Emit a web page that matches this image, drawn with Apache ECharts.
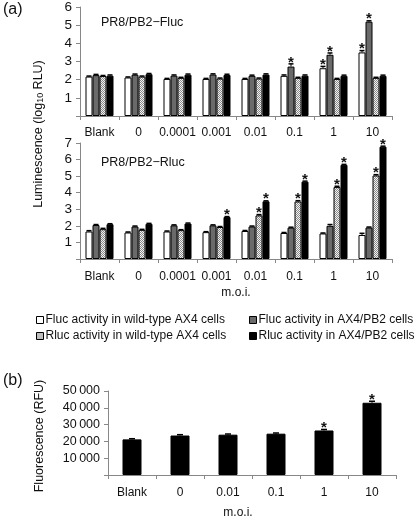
<!DOCTYPE html>
<html><head><meta charset="utf-8">
<script src="https://cdn.jsdelivr.net/npm/echarts@6/dist/echarts.min.js"></script>
<style>html,body{margin:0;padding:0;background:#fff}#c{width:416px;height:519px}</style>
</head><body><div id="c"></div>
<script>
// ---------- DATA ----------
const categoriesA = ['Blank', '0', '0.0001', '0.001', '0.01', '0.1', '1', '10'];
const categoriesB = ['Blank', '0', '0.01', '0.1', '1', '10'];
const seriesNames = [
  'Fluc activity in wild-type AX4 cells',
  'Fluc activity in AX4/PB2 cells',
  'Rluc activity in wild-type AX4 cells',
  'Rluc activity in AX4/PB2 cells'
];
// Panel (a) top: PR8/PB2-Fluc (log10 RLU)
const flucPanelFlucWT  = [2.17, 2.12, 2.04, 2.04, 2.04, 2.21, 2.63, 3.50];
const flucPanelFlucPB2 = [2.25, 2.27, 2.22, 2.28, 2.21, 2.72, 3.37, 5.19];
const flucPanelRlucWT  = [2.20, 2.17, 2.10, 2.06, 2.06, 2.10, 2.04, 2.10];
const flucPanelRlucPB2 = [2.22, 2.30, 2.27, 2.26, 2.28, 2.22, 2.21, 2.21];
const flucPanelErrFlucWT  = [0.03, 0.03, 0.03, 0.03, 0.03, 0.05, 0.10, 0.10];
const flucPanelErrFlucPB2 = [0.04, 0.04, 0.04, 0.04, 0.04, 0.15, 0.10, 0.05];
const flucPanelErrRlucWT  = [0.03, 0.03, 0.03, 0.03, 0.03, 0.03, 0.03, 0.03];
const flucPanelErrRlucPB2 = [0.04, 0.04, 0.04, 0.04, 0.04, 0.04, 0.04, 0.04];
const flucPanelStarFlucWT  = [0, 0, 0, 0, 0, 0, 1, 1];
const flucPanelStarFlucPB2 = [0, 0, 0, 0, 0, 1, 1, 1];
const flucPanelStarRlucWT  = [0, 0, 0, 0, 0, 0, 0, 0];
const flucPanelStarRlucPB2 = [0, 0, 0, 0, 0, 0, 0, 0];
// Panel (a) bottom: PR8/PB2-Rluc (log10 RLU)
const rlucPanelFlucWT  = [1.66, 1.60, 1.66, 1.62, 1.69, 1.57, 1.54, 1.45];
const rlucPanelFlucPB2 = [2.05, 1.96, 2.03, 2.03, 1.96, 1.89, 2.00, 1.90];
const rlucPanelRlucWT  = [1.80, 1.76, 1.74, 1.93, 2.63, 3.47, 4.34, 5.04];
const rlucPanelRlucPB2 = [2.10, 2.12, 2.14, 2.53, 3.48, 4.67, 5.68, 6.78];
const rlucPanelErrFlucWT  = [0.05, 0.03, 0.03, 0.03, 0.03, 0.03, 0.03, 0.10];
const rlucPanelErrFlucPB2 = [0.03, 0.03, 0.03, 0.03, 0.03, 0.03, 0.08, 0.03];
const rlucPanelErrRlucWT  = [0.05, 0.03, 0.03, 0.03, 0.05, 0.05, 0.05, 0.05];
const rlucPanelErrRlucPB2 = [0.03, 0.03, 0.03, 0.03, 0.03, 0.03, 0.03, 0.03];
const rlucPanelStarFlucWT  = [0, 0, 0, 0, 0, 0, 0, 0];
const rlucPanelStarFlucPB2 = [0, 0, 0, 0, 0, 0, 0, 0];
const rlucPanelStarRlucWT  = [0, 0, 0, 0, 1, 1, 1, 1];
const rlucPanelStarRlucPB2 = [0, 0, 0, 1, 1, 1, 1, 1];
// Panel (b): fluorescence (RFU)
const fluorescenceB = [21200, 23500, 24000, 24600, 26500, 43000];
const fluorescenceErrB = [400, 500, 400, 400, 600, 900];
const fluorescenceStarB = [0, 0, 0, 0, 1, 1];
const yTicksA1 = [0, 6, 1];   // min, max, interval
const yTicksA2 = [0, 7, 1];
const yTicksB = [0, 50000, 10000];

// ---------- STYLE ----------
const FONT = 'Liberation Sans, Arial, sans-serif';
const AXIS_COLOR = '#888';
const pc = document.createElement('canvas');
pc.width = 2; pc.height = 2;
const pctx = pc.getContext('2d');
pctx.fillStyle = '#f2f2f2'; pctx.fillRect(0, 0, 2, 2);
pctx.fillStyle = '#8a8a8a'; pctx.fillRect(0, 0, 1, 1); pctx.fillRect(1, 1, 1, 1);
const dotted = { image: pc, repeat: 'repeat' };
const fills = ['#ffffff', '#6a6a6a', dotted, '#000000'];
const BAR_W = 7;

const chart = echarts.init(document.getElementById('c'), null, { renderer: 'canvas' });

function yAxisCfg(gi, t, fmt, fs) {
  return {
    type: 'value', gridIndex: gi, min: t[0], max: t[1], interval: t[2],
    axisLine: { show: true, lineStyle: { color: AXIS_COLOR, width: 1 } },
    axisTick: { show: true, length: 4, lineStyle: { color: AXIS_COLOR } },
    splitLine: { show: false },
    axisLabel: { color: '#111', fontSize: fs || 13, fontFamily: FONT, margin: 8,
      formatter: fmt || (v => v === 0 ? '' : String(v)) }
  };
}
function xAxisCfg(gi, cats, margin) {
  return {
    type: 'category', gridIndex: gi, data: cats,
    axisLine: { show: true, lineStyle: { color: AXIS_COLOR, width: 1 } },
    axisTick: { show: true, length: 4, lineStyle: { color: AXIS_COLOR } },
    axisLabel: { color: '#111', fontSize: 12, fontFamily: FONT, margin: margin, interval: 0 }
  };
}

function errStarSeries(gi, values, errs, stars, offset, halfCap) {
  const data = values.map((v, i) => [i, v, errs[i], stars[i]]);
  return {
    type: 'custom', xAxisIndex: gi, yAxisIndex: gi, z: 5, silent: true,
    data: data,
    renderItem: function (params, api) {
      const idx = api.value(0), v = api.value(1), e = api.value(2), s = api.value(3);
      const base = api.coord([idx, v]);
      const top = api.coord([idx, v + e]);
      const x = base[0] + offset;
      const children = [];
      if (e > 0) {
        children.push({ type: 'line', shape: { x1: x, y1: base[1], x2: x, y2: top[1] }, style: { stroke: '#000', lineWidth: 1 } });
        children.push({ type: 'line', shape: { x1: x - halfCap, y1: top[1], x2: x + halfCap, y2: top[1] }, style: { stroke: '#000', lineWidth: 1.5 } });
      }
      if (s) {
        children.push({ type: 'text', style: { text: '*', x: x, y: top[1] + 6, align: 'center', verticalAlign: 'bottom', font: 'bold 15px ' + FONT, fill: '#111' } });
      }
      return { type: 'group', children: children };
    }
  };
}

const panelA1 = [flucPanelFlucWT, flucPanelFlucPB2, flucPanelRlucWT, flucPanelRlucPB2];
const panelA1Err = [flucPanelErrFlucWT, flucPanelErrFlucPB2, flucPanelErrRlucWT, flucPanelErrRlucPB2];
const panelA1Star = [flucPanelStarFlucWT, flucPanelStarFlucPB2, flucPanelStarRlucWT, flucPanelStarRlucPB2];
const panelA2 = [rlucPanelFlucWT, rlucPanelFlucPB2, rlucPanelRlucWT, rlucPanelRlucPB2];
const panelA2Err = [rlucPanelErrFlucWT, rlucPanelErrFlucPB2, rlucPanelErrRlucWT, rlucPanelErrRlucPB2];
const panelA2Star = [rlucPanelStarFlucWT, rlucPanelStarFlucPB2, rlucPanelStarRlucWT, rlucPanelStarRlucPB2];

const series = [];
[[0, panelA1, panelA1Err, panelA1Star], [1, panelA2, panelA2Err, panelA2Star]].forEach(([gi, vals, errs, stars]) => {
  vals.forEach((arr, k) => {
    series.push({
      name: seriesNames[k], type: 'bar', xAxisIndex: gi, yAxisIndex: gi,
      data: arr, barWidth: BAR_W, barGap: '0%',
      itemStyle: { color: fills[k], borderColor: '#000', borderWidth: 1 },
      emphasis: { disabled: true }, animation: false
    });
  });
  vals.forEach((arr, k) => {
    series.push(errStarSeries(gi, arr, errs[k], stars[k], (k - 1.5) * BAR_W, 2.5));
  });
});
series.push({
  name: 'Fluorescence', type: 'bar', xAxisIndex: 2, yAxisIndex: 2,
  data: fluorescenceB, barWidth: 19,
  itemStyle: { color: '#000', borderColor: '#000', borderWidth: 1 },
  emphasis: { disabled: true }, animation: false
});
series.push(errStarSeries(2, fluorescenceB, fluorescenceErrB, fluorescenceStarB, 0, 3));

function legendAt(name, left, top) {
  return {
    data: [name], left: left, top: top, orient: 'horizontal',
    icon: 'rect', itemWidth: 7, itemHeight: 7, itemGap: 0, padding: 0,
    selectedMode: false,
    textStyle: { color: '#111', fontSize: 12, fontFamily: FONT, padding: [0, 0, 0, -3] },
    itemStyle: { borderColor: '#000', borderWidth: 1 }
  };
}

const option = {
  animation: false,
  backgroundColor: '#fff',
  grid: [
    { left: 80, top: 7, width: 312, height: 109 },
    { left: 80, top: 143, width: 312, height: 116 },
    { left: 108, top: 391, width: 288, height: 84 }
  ],
  xAxis: [xAxisCfg(0, categoriesA, 11), xAxisCfg(1, categoriesA, 12), xAxisCfg(2, categoriesB, 12)],
  yAxis: [yAxisCfg(0, yTicksA1, null, 13.5), yAxisCfg(1, yTicksA2, null, 13.5),
    yAxisCfg(2, yTicksB, v => v === 0 ? '' : (v / 1000) + '\u2009000', 12.5)],
  legend: [
    legendAt(seriesNames[0], 36, 314),
    legendAt(seriesNames[1], 249, 314),
    legendAt(seriesNames[2], 36, 330),
    legendAt(seriesNames[3], 249, 330)
  ],
  series: series,
  graphic: [
    { type: 'text', left: 3, top: 2, style: { text: '(a)', font: '16px ' + FONT, fill: '#111' } },
    { type: 'text', left: 3, top: 373, style: { text: '(b)', font: '16px ' + FONT, fill: '#111' } },
    { type: 'text', x: 101, y: 23, style: { text: 'PR8/PB2\u2212Fluc', font: '12.5px ' + FONT, fill: '#111', verticalAlign: 'middle' } },
    { type: 'text', x: 101, y: 163, style: { text: 'PR8/PB2\u2212Rluc', font: '12.5px ' + FONT, fill: '#111', verticalAlign: 'middle' } },
    { type: 'text', x: 236, y: 293, style: { text: 'm.o.i.', font: '12px ' + FONT, fill: '#111', align: 'center', verticalAlign: 'middle' } },
    { type: 'text', x: 238, y: 513, style: { text: 'm.o.i.', font: '12px ' + FONT, fill: '#111', align: 'center', verticalAlign: 'middle' } },
    { type: 'text', x: 39, y: 134, rotation: Math.PI / 2,
      style: { text: 'Luminescence (log{s|10} RLU)', font: '12.5px ' + FONT, fill: '#111', align: 'center', verticalAlign: 'middle',
        rich: { s: { fontSize: 9, fontFamily: FONT, verticalAlign: 'bottom', padding: [4, 0, 0, 0] } } } },
    { type: 'text', x: 40, y: 436, rotation: Math.PI / 2,
      style: { text: 'Fluorescence (RFU)', font: '12.5px ' + FONT, fill: '#111', align: 'center', verticalAlign: 'middle' } }
  ]
};
chart.setOption(option);
</script>
</body></html>
